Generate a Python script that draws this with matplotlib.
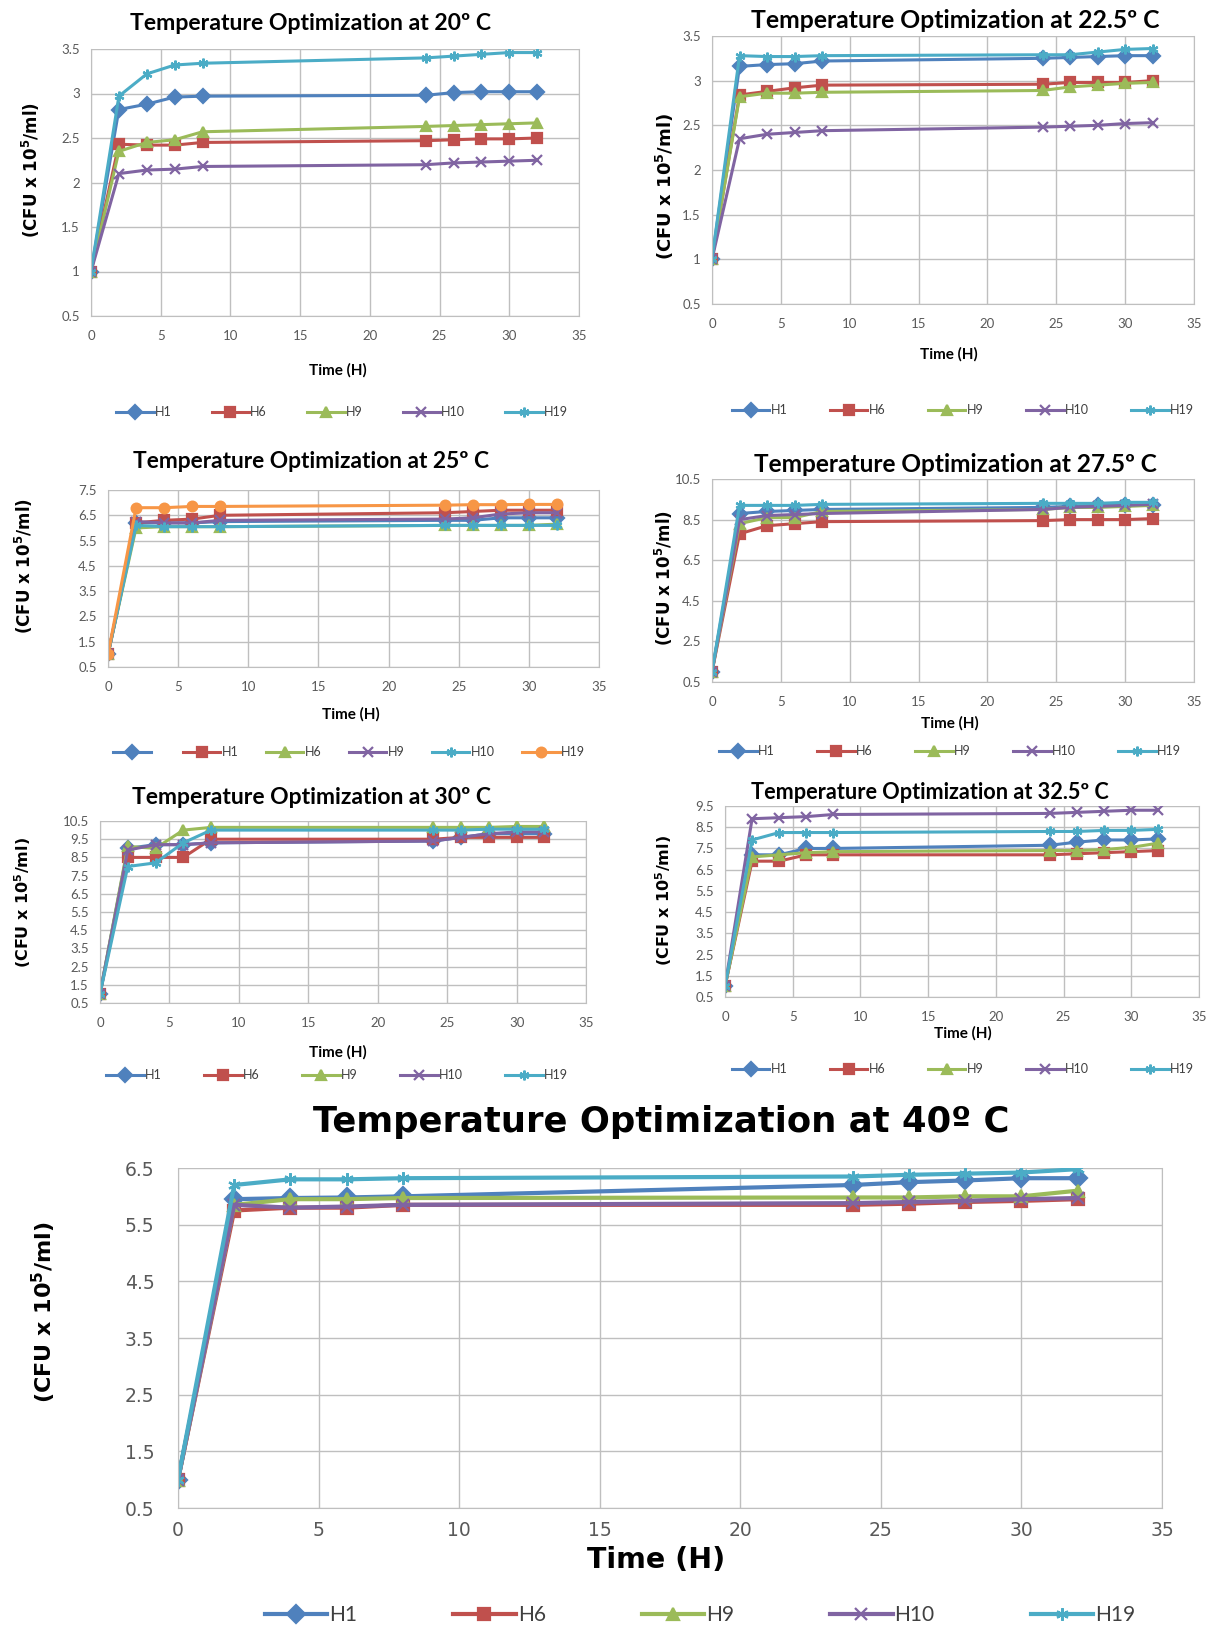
import matplotlib
matplotlib.use("Agg")
import matplotlib.pyplot as plt

# sampling times (hours)
hours = [0, 2, 4, 6, 8, 24, 26, 28, 30, 32]

# 20 C
t20_names = ["H1", "H6", "H9", "H10", "H19"]
t20_h1 = [1, 2.82, 2.88, 2.96, 2.97, 2.98, 3.01, 3.02, 3.02, 3.02]
t20_h6 = [1, 2.43, 2.42, 2.42, 2.45, 2.47, 2.48, 2.49, 2.49, 2.50]
t20_h9 = [1, 2.35, 2.45, 2.48, 2.57, 2.63, 2.64, 2.65, 2.66, 2.67]
t20_h10 = [1, 2.10, 2.14, 2.15, 2.18, 2.20, 2.22, 2.23, 2.24, 2.25]
t20_h19 = [1, 2.97, 3.22, 3.32, 3.34, 3.40, 3.42, 3.44, 3.46, 3.46]

# 22.5 C
t22_names = ["H1", "H6", "H9", "H10", "H19"]
t22_h1 = [1, 3.16, 3.18, 3.19, 3.22, 3.25, 3.26, 3.27, 3.28, 3.28]
t22_h6 = [1, 2.84, 2.88, 2.92, 2.95, 2.96, 2.98, 2.98, 2.98, 3.00]
t22_h9 = [1, 2.82, 2.86, 2.86, 2.87, 2.89, 2.93, 2.95, 2.97, 2.98]
t22_h10 = [1, 2.35, 2.40, 2.42, 2.44, 2.48, 2.49, 2.50, 2.52, 2.53]
t22_h19 = [1, 3.28, 3.27, 3.27, 3.28, 3.29, 3.29, 3.32, 3.35, 3.36]

# 25 C (first series has no name in the legend)
t25_names = ["", "H1", "H6", "H9", "H10", "H19"]
t25_s0 = [1, 6.20, 6.20, 6.20, 6.25, 6.30, 6.30, 6.40, 6.40, 6.40]
t25_h1 = [1, 6.20, 6.30, 6.35, 6.50, 6.60, 6.65, 6.70, 6.70, 6.70]
t25_h6 = [1, 6.00, 6.05, 6.05, 6.05, 6.10, 6.10, 6.10, 6.10, 6.15]
t25_h9 = [1, 6.25, 6.20, 6.20, 6.30, 6.35, 6.40, 6.55, 6.60, 6.60]
t25_h10 = [1, 6.10, 6.05, 6.05, 6.05, 6.10, 6.10, 6.10, 6.10, 6.10]
t25_h19 = [1, 6.80, 6.80, 6.85, 6.85, 6.90, 6.92, 6.92, 6.93, 6.93]

# 27.5 C
t27_names = ["H1", "H6", "H9", "H10", "H19"]
t27_h1 = [1, 8.80, 8.90, 8.95, 9.00, 9.10, 9.15, 9.20, 9.20, 9.20]
t27_h6 = [1, 7.80, 8.20, 8.30, 8.40, 8.45, 8.50, 8.50, 8.50, 8.55]
t27_h9 = [1, 8.30, 8.60, 8.60, 8.90, 9.00, 9.10, 9.10, 9.15, 9.20]
t27_h10 = [1, 8.50, 8.70, 8.75, 8.80, 9.00, 9.10, 9.15, 9.20, 9.25]
t27_h19 = [1, 9.20, 9.20, 9.20, 9.25, 9.30, 9.30, 9.30, 9.35, 9.35]

# 30 C
t30_names = ["H1", "H6", "H9", "H10", "H19"]
t30_h1 = [1, 9.00, 9.20, 9.20, 9.30, 9.40, 9.60, 9.80, 9.80, 9.80]
t30_h6 = [1, 8.50, 8.50, 8.50, 9.50, 9.50, 9.60, 9.60, 9.60, 9.60]
t30_h9 = [1, 9.10, 9.00, 10.00, 10.15, 10.15, 10.15, 10.15, 10.20, 10.20]
t30_h10 = [1, 8.90, 9.20, 9.20, 9.30, 9.40, 9.60, 9.80, 9.90, 9.90]
t30_h19 = [1, 8.00, 8.20, 9.30, 10.00, 10.00, 10.00, 10.05, 10.05, 10.05]

# 32.5 C
t32_names = ["H1", "H6", "H9", "H10", "H19"]
t32_h1 = [1, 7.20, 7.20, 7.50, 7.50, 7.65, 7.80, 7.90, 7.90, 7.95]
t32_h6 = [1, 6.90, 6.90, 7.20, 7.20, 7.20, 7.25, 7.30, 7.35, 7.40]
t32_h9 = [1, 7.10, 7.20, 7.30, 7.35, 7.40, 7.40, 7.45, 7.55, 7.75]
t32_h10 = [1, 8.90, 8.95, 9.00, 9.10, 9.15, 9.20, 9.25, 9.30, 9.30]
t32_h19 = [1, 7.90, 8.25, 8.25, 8.25, 8.30, 8.30, 8.35, 8.35, 8.40]

# 40 C
t40_names = ["H1", "H6", "H9", "H10", "H19"]
t40_h1 = [1, 5.95, 5.97, 5.98, 6.00, 6.20, 6.25, 6.28, 6.32, 6.32]
t40_h6 = [1, 5.75, 5.80, 5.80, 5.85, 5.85, 5.87, 5.90, 5.92, 5.95]
t40_h9 = [1, 5.85, 5.95, 5.95, 5.97, 5.98, 5.98, 6.00, 6.00, 6.10]
t40_h10 = [1, 5.85, 5.80, 5.82, 5.85, 5.88, 5.90, 5.92, 5.95, 5.97]
t40_h19 = [1, 6.20, 6.30, 6.30, 6.32, 6.35, 6.38, 6.40, 6.42, 6.48]

# excel 2007 palette + marker order
couleurs = ["#4F81BD", "#C0504D", "#9BBB59", "#8064A2", "#4BACC6", "#F79646"]
marqueurs = ["D", "s", "^", "x", (6, 2, 0), "o"]

W, H = 1210, 1627
fig = plt.figure(figsize=(W / 100, H / 100), dpi=100)

NARROW = ["Lato", "DejaVu Sans"]
YLAB = "(CFU x 10$^{\\mathbf{5}}$/ml)"


def Y(py):
    return 1 - py / H


def panneau(titre, series, noms, yticks, box, pos, tailles, big=False):
    # box = (left, right, top, bottom) axes in pixels
    # pos = (title x, title y, xlabel x, xlabel y, legend x, legend y,
    #        ylabel x, ylabel y)
    # tailles = (title size, ylabel size, legend colspacing)
    l, r, t, b = box
    tx, ty, xx, xy, lx, ly, yx, yy = pos
    fs_titre, fs_ylab, colsp = tailles
    ax = fig.add_axes([l / W, Y(b), (r - l) / W, (b - t) / H])
    lw = 3.0 if big else 2.2
    ms = 9 if big else 7
    for k, (vals, nom) in enumerate(zip(series, noms)):
        ax.plot(hours, vals, color=couleurs[k], marker=marqueurs[k], lw=lw,
                ms=ms, mew=1.6, label=nom if nom else " ")
    ax.set_xlim(0, 35)
    ax.set_ylim(yticks[0], yticks[-1])
    ax.set_xticks(range(0, 36, 5))
    ax.set_yticks(yticks)
    ax.set_yticklabels([f"{v:g}" for v in yticks])
    if big:
        ax.tick_params(labelsize=13.5, colors="#595959", length=0)
        ax.tick_params(axis="x", pad=9)
        ax.tick_params(axis="y", pad=17)
    else:
        ax.tick_params(labelsize=9.5, colors="#595959", length=0)
        ax.tick_params(axis="x", pad=10)
        ax.tick_params(axis="y", pad=8)
        for lab in ax.get_xticklabels() + ax.get_yticklabels():
            lab.set_family(NARROW)
    ax.grid(True, color="#BFBFBF", lw=1.0)
    ax.set_axisbelow(True)
    for sp in ax.spines.values():
        sp.set_color("#BFBFBF")
    ax.spines["top"].set_visible(False)
    if big:
        fig.text(tx / W, Y(ty), titre, ha="center", va="center",
                 fontsize=fs_titre, fontweight="bold")
        fig.text(xx / W, Y(xy), "Time (H)", ha="center", va="center",
                 fontsize=20.5, fontweight="bold")
    else:
        fig.text(tx / W, Y(ty), titre, ha="center", va="center",
                 fontsize=fs_titre, fontweight="bold", family=NARROW)
        fig.text(xx / W, Y(xy), "Time (H)", ha="center", va="center",
                 fontsize=11, fontweight="bold", family=NARROW)
    fig.text(yx / W, Y(yy), YLAB, rotation=90, ha="center",
             va="center", fontsize=fs_ylab, fontweight="bold")
    leg = fig.legend(*ax.get_legend_handles_labels(), loc="center",
                     bbox_to_anchor=(lx / W, Y(ly)), ncol=len(series),
                     frameon=False, fontsize=15 if big else 9,
                     columnspacing=colsp, handlelength=3.0,
                     handletextpad=0.1)
    for txt in leg.get_texts():
        txt.set_family(NARROW)
        txt.set_color("#404040")
    return ax


panneau("Temperature Optimization at 20º C",
        [t20_h1, t20_h6, t20_h9, t20_h10, t20_h19], t20_names,
        [0.5, 1, 1.5, 2, 2.5, 3, 3.5], (91, 579, 49, 316),
        (311, 23, 338, 370, 342, 412, 31, 170), (16.6, 12, 3.2))
panneau("Temperature Optimization at 22.5º C",
        [t22_h1, t22_h6, t22_h9, t22_h10, t22_h19], t22_names,
        [0.5, 1, 1.5, 2, 2.5, 3, 3.5], (712, 1194, 36, 304),
        (955, 21, 949, 354, 963, 410, 665, 186), (17.8, 13, 3.4))
panneau("Temperature Optimization at 25º C",
        [t25_s0, t25_h1, t25_h6, t25_h9, t25_h10, t25_h19], t25_names,
        [0.5, 1.5, 2.5, 3.5, 4.5, 5.5, 6.5, 7.5], (108, 599, 490, 667),
        (311, 461, 351, 714, 349, 752, 24, 566), (16.4, 12, 2.2))
panneau("Temperature Optimization at 27.5º C",
        [t27_h1, t27_h6, t27_h9, t27_h10, t27_h19], t27_names,
        [0.5, 2.5, 4.5, 6.5, 8.5, 10.5], (712, 1194, 479, 682),
        (955, 464, 950, 723, 950, 751, 664, 578), (17.6, 12, 3.4))
panneau("Temperature Optimization at 30º C",
        [t30_h1, t30_h6, t30_h9, t30_h10, t30_h19], t30_names,
        [0.5, 1.5, 2.5, 3.5, 4.5, 5.5, 6.5, 7.5, 8.5, 9.5, 10.5],
        (100, 586, 821, 1003), (312, 798, 338, 1052, 337, 1075, 23, 903),
        (16.5, 11.5, 3.4))
panneau("Temperature Optimization at 32.5º C",
        [t32_h1, t32_h6, t32_h9, t32_h10, t32_h19], t32_names,
        [0.5, 1.5, 2.5, 3.5, 4.5, 5.5, 6.5, 7.5, 8.5, 9.5],
        (725, 1199, 806, 997), (930, 793, 963, 1033, 963, 1069, 664, 901),
        (15.6, 11.5, 3.4))
panneau("Temperature Optimization at 40º C",
        [t40_h1, t40_h6, t40_h9, t40_h10, t40_h19], t40_names,
        [0.5, 1.5, 2.5, 3.5, 4.5, 5.5, 6.5], (178, 1162, 1168, 1508),
        (661, 1122, 656, 1560, 700, 1615, 44, 1312), (25.5, 16, 4.6),
        big=True)

fig.savefig("out.png", dpi=100)
